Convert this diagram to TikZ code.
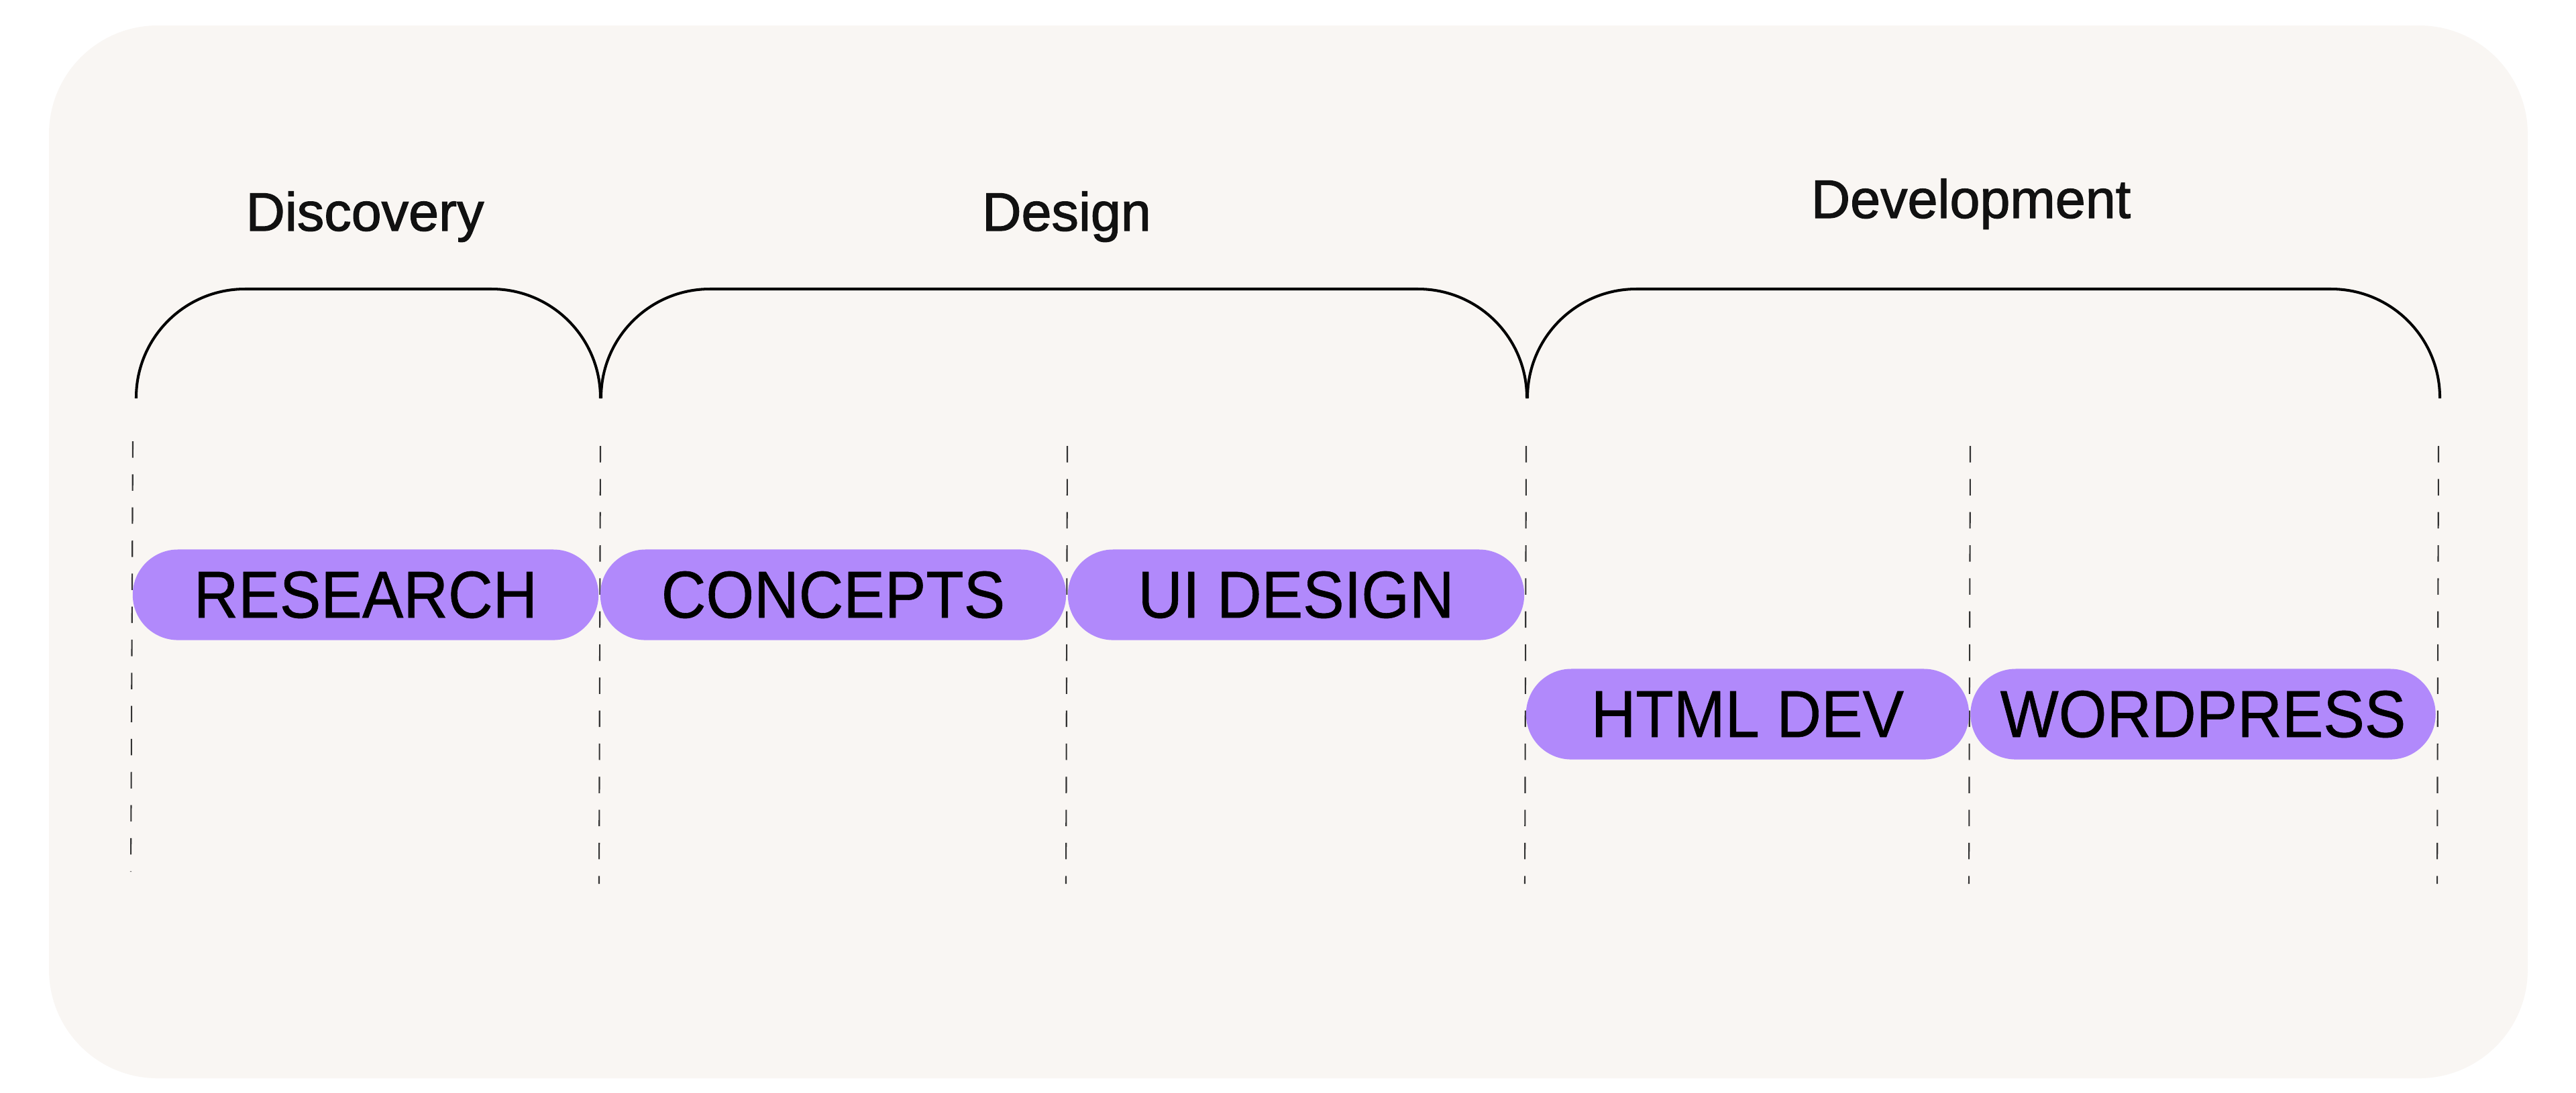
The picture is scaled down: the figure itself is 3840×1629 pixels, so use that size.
\documentclass[tikz,border=0pt]{standalone}
\usepackage{fontspec}
\setmainfont{Liberation Sans}
\newfontfamily\labelfont[FakeBold=1.5]{Liberation Sans}
\newfontfamily\pillfont[FakeStretch=0.93,FakeBold=0.6]{Liberation Sans}
\definecolor{bgcol}{HTML}{F9F6F3}
\definecolor{pillcol}{HTML}{B189FB}
\definecolor{inkcol}{HTML}{111111}
\begin{document}
\begin{tikzpicture}[x=0.01cm,y=-0.01cm,
  phase/.style={font=\labelfont\fontsize{23}{27}\selectfont, text=inkcol, anchor=base, inner sep=0pt},
  pill/.style={fill=pillcol, rounded corners=0.675cm, minimum height=1.35cm, inner sep=0pt,
    font=\pillfont\fontsize{28.2}{32}\selectfont, text=black},
  bracket/.style={draw=black, line width=1.15pt, rounded corners=1.62cm},
  guide/.style={draw=black!80, line width=0.6pt, dash pattern=on 0.245cm off 0.248cm}]
\useasboundingbox (0,0) rectangle (3840,1629);
\fill[white] (0,0) rectangle (3840,1629);
\fill[bgcol, rounded corners=1.62cm] (73,38) rectangle (3768,1608);

% phase labels
\node[phase] (discovery) at (544,344) {Discovery};
\node[phase] (design) at (1590,344) {Design};
\node[phase] (development) at (2938,325) {Development};

% brackets
\draw[bracket] (203,594) -- (203,431) -- (895,431) -- (895,594);
\draw[bracket] (896,594) -- (896,431) -- (2276,431) -- (2276,594);
\draw[bracket] (2277,594) -- (2277,431) -- (3637,431) -- (3637,594);

% dashed guides
\coordinate (g1t) at (198,658);  \coordinate (g1b) at (195,1300);
\coordinate (g2t) at (895,665);  \coordinate (g2b) at (893,1318);
\coordinate (g3t) at (1591,665); \coordinate (g3b) at (1589,1318);
\coordinate (g4t) at (2275,665); \coordinate (g4b) at (2273,1318);
\coordinate (g5t) at (2937,665); \coordinate (g5b) at (2935,1318);
\coordinate (g6t) at (3635,665); \coordinate (g6b) at (3633,1318);
\foreach \i in {1,...,6} {\draw[guide] (g\i t) -- (g\i b);}

% pills
\node[pill, minimum width=6.94cm] (research) at (545,887) {RESEARCH};
\node[pill, minimum width=6.94cm] (concepts) at (1242,887) {CONCEPTS};
\node[pill, minimum width=6.80cm] (uidesign) at (1932,887) {UI DESIGN};
\node[pill, minimum width=6.60cm] (htmldev) at (2605,1065) {HTML DEV};
\node[pill, minimum width=6.93cm] (wordpress) at (3284,1065) {WORDPRESS};
\end{tikzpicture}
\end{document}
